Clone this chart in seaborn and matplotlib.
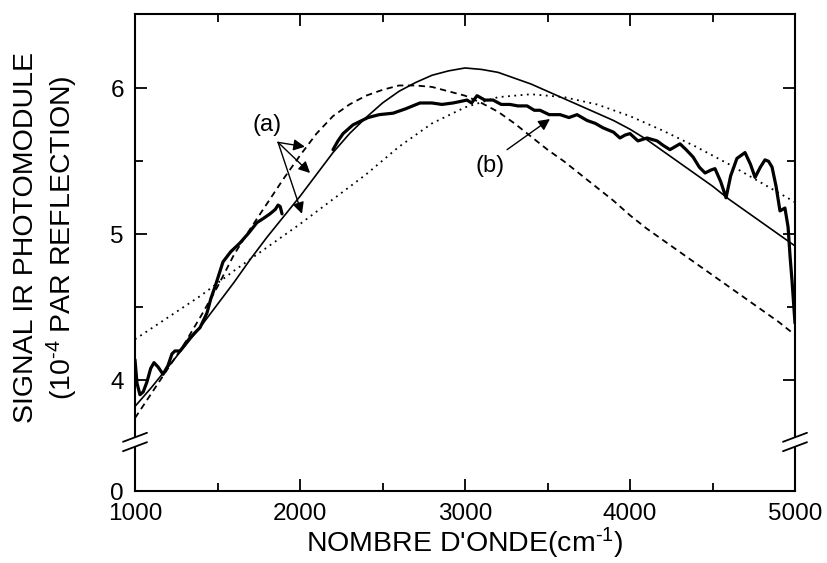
import matplotlib
matplotlib.use("Agg")
import matplotlib.pyplot as plt
import seaborn as sns
import numpy as np

# ---------------- data ----------------
theory_b_x = [1000, 1100, 1200, 1300, 1400, 1500, 1600, 1700, 1800, 1900, 2000, 2100, 2200,
              2300, 2400, 2500, 2600, 2700, 2800, 2900, 3000, 3100, 3200, 3300, 3400, 3500,
              3600, 3700, 3800, 3900, 4000, 4100, 4200, 4300, 4400, 4500, 4600, 4700, 4800,
              4900, 5000]
theory_b_y = [3.82, 3.95, 4.09, 4.23, 4.37, 4.52, 4.67, 4.83, 4.98, 5.12, 5.26, 5.41, 5.56,
              5.69, 5.80, 5.90, 5.98, 6.04, 6.09, 6.12, 6.14, 6.13, 6.11, 6.07, 6.03, 5.98,
              5.93, 5.88, 5.83, 5.78, 5.72, 5.65, 5.57, 5.49, 5.41, 5.33, 5.24, 5.16, 5.08,
              5.00, 4.92]

dashed_a_x = [1000, 1100, 1200, 1300, 1400, 1500, 1600, 1700, 1800, 1900, 2000, 2100, 2200,
              2300, 2400, 2500, 2600, 2700, 2800, 2900, 3000, 3100, 3200, 3300, 3400, 3500,
              3600, 3700, 3800, 3900, 4000, 4100, 4200, 4300, 4400, 4500, 4600, 4700, 4800,
              4900, 5000]
dashed_a_y = [3.74, 3.91, 4.08, 4.25, 4.44, 4.64, 4.86, 5.04, 5.21, 5.38, 5.54, 5.69, 5.81,
              5.89, 5.95, 5.99, 6.02, 6.02, 6.01, 5.98, 5.95, 5.90, 5.84, 5.76, 5.67, 5.58,
              5.50, 5.41, 5.32, 5.23, 5.13, 5.04, 4.96, 4.88, 4.80, 4.72, 4.64, 4.56, 4.48,
              4.40, 4.31]

dotted_a_x = [1000, 1200, 1400, 1600, 1800, 2000, 2200, 2400, 2600, 2800, 3000, 3200, 3400,
              3600, 3800, 4000, 4200, 4400, 4600, 4800, 5000]
dotted_a_y = [4.28, 4.43, 4.58, 4.75, 4.91, 5.07, 5.24, 5.41, 5.60, 5.76, 5.87, 5.94, 5.96,
              5.94, 5.89, 5.81, 5.71, 5.60, 5.48, 5.35, 5.22]

exp1_x = [1000, 1012, 1030, 1050, 1073, 1095, 1115, 1140, 1170, 1200, 1224, 1242, 1273, 1300,
          1333, 1394, 1436, 1460, 1485, 1533, 1580, 1636, 1690, 1739, 1780, 1818, 1850, 1867,
          1880, 1891]
exp1_y = [4.14, 3.98, 3.90, 3.92, 3.99, 4.08, 4.12, 4.09, 4.04, 4.10, 4.18, 4.20, 4.20, 4.24,
          4.29, 4.36, 4.46, 4.56, 4.64, 4.81, 4.88, 4.94, 5.01, 5.08, 5.11, 5.14, 5.17, 5.20,
          5.19, 5.14]

exp2_x = [2200, 2230, 2261, 2321, 2412, 2480, 2564, 2640, 2727, 2800, 2860, 2927, 2970, 3012,
          3040, 3073, 3120, 3170, 3220, 3273, 3320, 3376, 3420, 3455, 3510, 3576, 3630, 3679,
          3740, 3790, 3836, 3900, 3939, 3970, 4000, 4048, 4103, 4164, 4200, 4242, 4303, 4340,
          4382, 4420, 4455, 4490, 4515, 4550, 4582, 4610, 4648, 4697, 4730, 4758, 4790, 4818,
          4840, 4861, 4885, 4909, 4939, 4958, 4970, 4982, 5000]
exp2_y = [5.58, 5.64, 5.69, 5.75, 5.80, 5.82, 5.83, 5.86, 5.90, 5.90, 5.89, 5.90, 5.91, 5.92,
          5.90, 5.95, 5.92, 5.92, 5.89, 5.89, 5.88, 5.88, 5.85, 5.85, 5.82, 5.82, 5.80, 5.82,
          5.78, 5.76, 5.73, 5.70, 5.66, 5.68, 5.69, 5.64, 5.66, 5.64, 5.61, 5.58, 5.62, 5.58,
          5.53, 5.46, 5.42, 5.44, 5.45, 5.36, 5.25, 5.40, 5.52, 5.56, 5.48, 5.39, 5.46, 5.51,
          5.50, 5.46, 5.33, 5.16, 5.18, 5.05, 4.85, 4.68, 4.39]

x_ticks = [1000, 2000, 3000, 4000, 5000]
x_tick_labels = ["1000", "2000", "3000", "4000", "5000"]
y_ticks = [3.24, 4, 5, 6]          # bottom tick is the broken-axis zero
y_tick_labels = ["0", "4", "5", "6"]

# ---------------- style ----------------
sns.set_style("ticks")
plt.rcParams["font.family"] = ["Liberation Sans", "DejaVu Sans"]
plt.rcParams["mathtext.fontset"] = "custom"
plt.rcParams["mathtext.rm"] = "Liberation Sans"
plt.rcParams["mathtext.default"] = "regular"
for k in ["text.color", "axes.labelcolor", "xtick.color", "ytick.color", "axes.edgecolor"]:
    plt.rcParams[k] = "black"

fig = plt.figure(figsize=(8.27, 5.63), dpi=100)
ax = fig.add_axes([135 / 827, 1 - 491 / 563, 660 / 827, 477 / 563])

sns.lineplot(x=theory_b_x, y=theory_b_y, ax=ax, color="black", lw=1.2,
             estimator=None, sort=False)
sns.lineplot(x=dashed_a_x, y=dashed_a_y, ax=ax, color="black", lw=1.3,
             linestyle=(0, (3.5, 2.5)), estimator=None, sort=False)
sns.lineplot(x=dotted_a_x, y=dotted_a_y, ax=ax, color="black", lw=1.3,
             linestyle=(0, (1, 2.5)), estimator=None, sort=False)
sns.lineplot(x=exp1_x, y=exp1_y, ax=ax, color="black", lw=2.3,
             estimator=None, sort=False)
sns.lineplot(x=exp2_x, y=exp2_y, ax=ax, color="black", lw=2.3,
             estimator=None, sort=False)

ax.set_xlim(1000, 5000)
ax.set_ylim(3.24, 6.51)
ax.set_xticks(x_ticks)
ax.set_xticklabels(x_tick_labels)
ax.set_xticks([1500, 2500, 3500, 4500], minor=True)
ax.set_yticks(y_ticks)
ax.set_yticklabels(y_tick_labels)
ax.set_yticks([4.5, 5.5], minor=True)

ax.tick_params(which="both", direction="in", top=True, right=True, width=1.3,
               labelsize=17.5, color="black", labelcolor="black")
ax.tick_params(which="major", length=8.5)
ax.tick_params(which="minor", length=6)
ax.tick_params(axis="x", pad=8.5)
ax.tick_params(axis="y", pad=8)
for s in ax.spines.values():
    s.set_visible(True)
    s.set_linewidth(1.5)
    s.set_color("black")

ax.set_xlabel("NOMBRE D'ONDE(cm$^{\u2010 1}$)", fontsize=20.5)
ax.xaxis.set_label_coords(0.5, -0.074)
ax.set_ylabel("SIGNAL IR PHOTOMODULE\n(10$^{\u20104}$ PAR REFLECTION)", fontsize=20.5,
              linespacing=1.22)
ax.yaxis.set_label_coords(-0.083, 0.532)

# annotations
arrow = dict(arrowstyle="-|>", color="black", lw=1.0, mutation_scale=17,
             shrinkA=0, shrinkB=0)
ax.text(1800, 5.75, "(a)", fontsize=17, ha="center", va="center")
for tip in [(2030, 5.60), (2061, 5.42), (2012, 5.14)]:
    ax.annotate("", xy=tip, xytext=(1867, 5.63), arrowprops=arrow)
ax.text(3152, 5.47, "(b)", fontsize=17, ha="center", va="center")
ax.annotate("", xy=(3515, 5.79), xytext=(3255, 5.58), arrowprops=arrow)

# axis-break marks on left and right spines
yc = (491 - 442) / 477
d = 4.7 / 477
dx = 12 / 660
s = 4.5 / 477
for x0 in (0.0, 1.0):
    ax.plot([x0, x0], [yc - d, yc + d], transform=ax.transAxes, color="white",
            lw=3, clip_on=False, zorder=10, solid_capstyle="butt")
    for yy in (yc - d, yc + d):
        ax.plot([x0 - dx, x0 + dx], [yy - s, yy + s], transform=ax.transAxes,
                color="black", lw=1.3, clip_on=False, zorder=11)

fig.savefig("out.png", dpi=100)
